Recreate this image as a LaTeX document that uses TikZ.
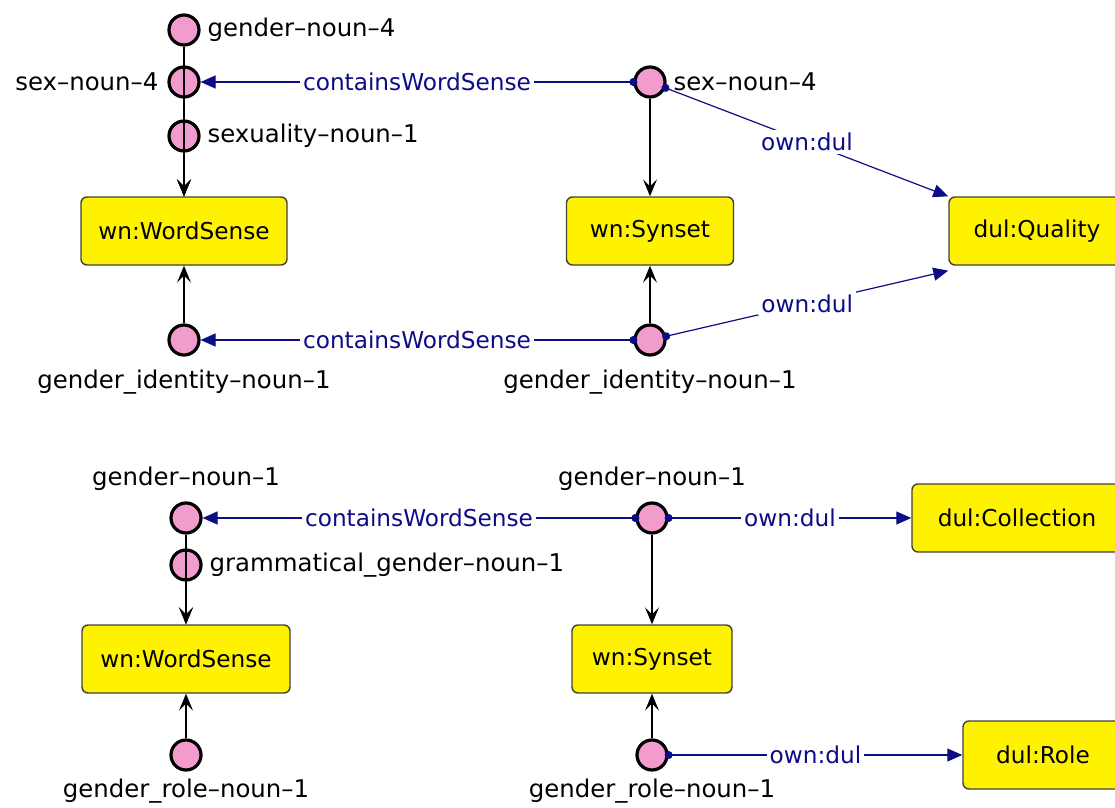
\documentclass[tikz,border=0pt]{standalone}
\usepackage{fontspec}
\setmainfont{DejaVu Sans}
\usepackage{tikz}
\usetikzlibrary{arrows,arrows.meta}
\definecolor{indpink}{RGB}{242,155,205}
\definecolor{propblue}{RGB}{12,12,135}

\begin{document}
\begin{tikzpicture}[x=0.5pt,y=-0.5pt,>={Stealth[length=8.5pt,width=7pt,inset=3.5pt]},
			font=\fontsize{11.6}{14}\selectfont,
			every label/.style={font=\fontsize{12.2}{14}\selectfont},
			ind node/.style={circle,draw,line width=1.6pt,fill=indpink,inner sep=0pt,minimum size=15pt},
			class node/.style={rectangle,rounded corners=3pt,draw=black!85!yellow,line width=0.7pt,fill=yellow,minimum height=34pt},
			sub edge/.style={->,line width=0.65pt},
			prop edge/.style={{Circle[length=4pt]}-{Triangle[length=7.5pt,width=6.5pt]},propblue,line width=0.6pt,shorten <=-2pt},
			prop label/.style={fill=white,text=propblue,inner sep=1.5pt}]

			\useasboundingbox (0,0) rectangle (1115,808);

			% sex / gender senses
			\node[ind node, label={[label distance=0pt]right:gender–noun–4}] (gn4) at (184,30) {};
			\node[ind node, label={[label distance=1pt]left:sex–noun–4}] (sn4) at (184,82) {};
			\node[ind node, label={[label distance=0pt]right:sexuality–noun–1}] (sxn1) at (184,136) {};
			\node[class node, minimum width=103pt] (ws1) at (184,231) {wn:WordSense};
			\node[ind node, label={[label distance=3pt]below:gender\_identity–noun–1}] (gin1) at (184,340) {};

			\node[ind node, label={[label distance=0pt]right:sex–noun–4}] (sn4s) at (650,82) {};
			\node[class node, minimum width=83.5pt] (syn1) at (650,231) {wn:Synset};
			\node[ind node, label={[label distance=3pt]below:gender\_identity–noun–1}] (gin1s) at (650,340) {};
			\node[class node, minimum width=88pt] (qual) at (1037,231) {dul:Quality};

			% gender as collection / role
			\node[ind node, label={[label distance=2pt]above:gender–noun–1}] (gn1) at (186,518) {};
			\node[ind node, label={[label distance=0pt]right:grammatical\_gender–noun–1}] (ggn1) at (186,565) {};
			\node[class node, minimum width=104pt] (ws2) at (186,659) {wn:WordSense};
			\node[ind node, label={[label distance=0pt]below:gender\_role–noun–1}] (grn1) at (186,755) {};

			\node[ind node, label={[label distance=2pt]above:gender–noun–1}] (gn1s) at (652,518) {};
			\node[class node, minimum width=80pt] (syn2) at (652,659) {wn:Synset};
			\node[ind node, label={[label distance=0pt]below:gender\_role–noun–1}] (grn1s) at (652,755) {};
			\node[class node, minimum width=105pt] (coll) at (1017,518) {dul:Collection};
			\node[class node, minimum width=80pt] (role) at (1043,755) {dul:Role};

			\path[sub edge]
			(gn4) edge (ws1)
			(sn4) edge (ws1)
			(sxn1) edge (ws1)
			(gin1) edge (ws1)
			(sn4s) edge (syn1)
			(gin1s) edge (syn1)
			(gn1) edge (ws2)
			(ggn1) edge (ws2)
			(grn1) edge (ws2)
			(gn1s) edge (syn2)
			(grn1s) edge (syn2);

			\path[]
			(sn4s) edge[prop edge] node[prop label] {containsWordSense} (sn4)
			(gin1s) edge[prop edge] node[prop label] {containsWordSense} (gin1)
			(sn4s) edge[prop edge] node[prop label] {own:dul} (qual.north west)
			(gin1s) edge[prop edge] node[prop label] {own:dul} ([yshift=-2.5pt]qual.south west)
			(gn1s) edge[prop edge] node[prop label] {containsWordSense} (gn1)
			(gn1s) edge[prop edge] node[prop label] {own:dul} (coll)
			(grn1s) edge[prop edge] node[prop label] {own:dul} (role);

		\end{tikzpicture}
\end{document}
